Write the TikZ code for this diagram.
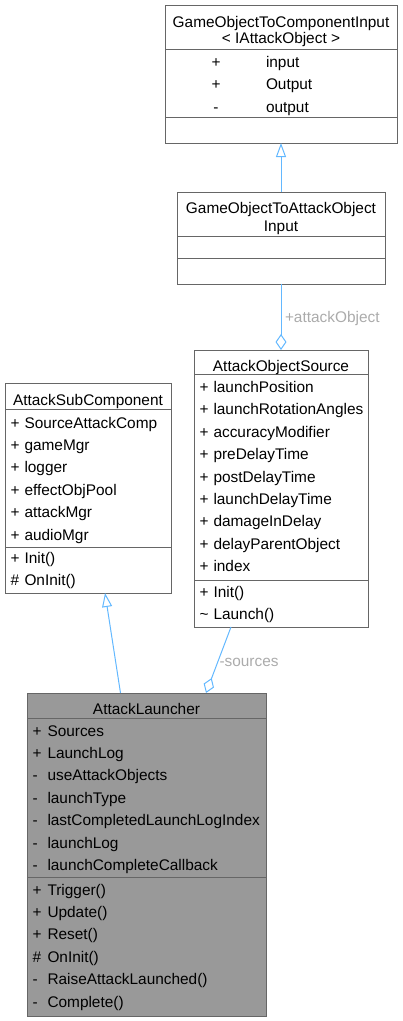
\documentclass[tikz,border=0pt]{standalone}
\usepackage{fontspec}
\setmainfont{Liberation Sans}
\usetikzlibrary{arrows.meta}
\definecolor{edgeblue}{HTML}{63B8FF}
\definecolor{boxgray}{HTML}{666666}
\definecolor{labelgray}{HTML}{ABABAB}
\definecolor{mainfill}{HTML}{999999}
\begin{document}
\begin{tikzpicture}[x=1pt,y=-1pt,
  font=\fontsize{15.4}{18}\selectfont,
  umlbox/.style={draw=boxgray, line width=1pt, fill=white, inner sep=0pt, outer sep=0pt, anchor=north west},
  divline/.style={draw=boxgray, line width=1pt},
  txt/.style={inner sep=0pt, outer sep=0pt, anchor=base west, text=black},
  ttl/.style={inner sep=0pt, outer sep=0pt, anchor=base, text=black},
  elabel/.style={inner sep=0pt, outer sep=0pt, anchor=base west, text=labelgray},
  inherit/.style={draw=edgeblue, line width=1pt, -{Triangle[open, length=14pt, width=10pt]}},
  aggr/.style={draw=edgeblue, line width=1pt, -{Diamond[open, length=16pt, width=11pt]}}]
\useasboundingbox (0,0) rectangle (403,1021);

% ---- GameObjectToComponentInput< IAttackObject >
\node[umlbox, minimum width=232pt, minimum height=138pt] (b1) at (165,5) {};
\draw[divline] (165,49) -- (397,49);
\draw[divline] (165,117) -- (397,117);
\node[ttl] (b1t1) at (281,27.5) {GameObjectToComponentInput};
\node[ttl] (b1t2) at (281,43) {< IAttackObject >};
\foreach \s/\n [count=\i from 0] in {+/input, +/Output, -/output} {
  \node[ttl] (b1s\i) at (216,{67.5+22.4*\i}) {\s};
  \node[txt] (b1n\i) at (266,{67.5+22.4*\i}) {\n};
}

% ---- GameObjectToAttackObjectInput
\node[umlbox, minimum width=208pt, minimum height=92pt] (b2) at (177,192) {};
\draw[divline] (177,236) -- (385,236);
\draw[divline] (177,258) -- (385,258);
\node[ttl] (b2t1) at (281,213.5) {GameObjectToAttackObject};
\node[ttl] (b2t2) at (281,231.5) {Input};

% ---- AttackObjectSource
\node[umlbox, minimum width=174pt, minimum height=277pt] (b3) at (194,350) {};
\draw[divline] (194,374) -- (368,374);
\draw[divline] (194,580) -- (368,580);
\node[ttl] (b3t) at (281,371.5) {AttackObjectSource};
\foreach \s/\n [count=\i from 0] in {+/launchPosition, +/launchRotationAngles, +/accuracyModifier, +/preDelayTime, +/postDelayTime, +/launchDelayTime, +/damageInDelay, +/delayParentObject, +/index} {
  \node[txt] (b3as\i) at (199.5,{392.5+22.4*\i}) {\s};
  \node[txt] (b3an\i) at (213.5,{392.5+22.4*\i}) {\n};
}
\foreach \s/\n [count=\i from 0] in {+/Init(), \textasciitilde/Launch()} {
  \node[txt] (b3ms\i) at (199.5,{597+22.4*\i}) {\s};
  \node[txt] (b3mn\i) at (213.5,{597+22.4*\i}) {\n};
}

% ---- AttackSubComponent
\node[umlbox, minimum width=166pt, minimum height=210pt] (b4) at (5,383) {};
\draw[divline] (5,409) -- (171,409);
\draw[divline] (5,547) -- (171,547);
\node[ttl] (b4t) at (88,405.5) {AttackSubComponent};
\foreach \s/\n [count=\i from 0] in {+/SourceAttackComp, +/gameMgr, +/logger, +/effectObjPool, +/attackMgr, +/audioMgr} {
  \node[txt] (b4as\i) at (10.5,{428+22.4*\i}) {\s};
  \node[txt] (b4an\i) at (24.5,{428+22.4*\i}) {\n};
}
\foreach \s/\n [count=\i from 0] in {+/Init(), \#/OnInit()} {
  \node[txt] (b4ms\i) at (10.5,{563.5+22.4*\i}) {\s};
  \node[txt] (b4mn\i) at (24.5,{563.5+22.4*\i}) {\n};
}

% ---- AttackLauncher
\node[umlbox, fill=mainfill, minimum width=239pt, minimum height=323pt] (bl) at (27,693) {};
\draw[divline] (27,718) -- (266,718);
\draw[divline] (27,877.5) -- (266,877.5);
\node[ttl] (blt) at (146.5,714) {AttackLauncher};
\foreach \s/\n [count=\i from 0] in {+/Sources, +/LaunchLog, -/useAttackObjects, -/launchType, -/lastCompletedLaunchLogIndex, -/launchLog, -/launchCompleteCallback} {
  \node[txt] (blas\i) at (32.5,{736+22.4*\i}) {\s};
  \node[txt] (blan\i) at (47.5,{736+22.4*\i}) {\n};
}
\foreach \s/\n [count=\i from 0] in {+/Trigger(), +/Update(), +/Reset(), \#/OnInit(), -/RaiseAttackLaunched(), -/Complete()} {
  \node[txt] (blms\i) at (32.5,{895+22.4*\i}) {\s};
  \node[txt] (blmn\i) at (47.5,{895+22.4*\i}) {\n};
}

% ---- connectors
\draw[inherit] (b2.north) -- (b1.south);
\draw[aggr] (b2.south) -- (b3.north);
\node[elabel] (lab1) at (285,322) {+attackObject};

\coordinate (blIn) at ([xshift=-26pt]bl.north);
\coordinate (b4Out) at ([xshift=17pt]b4.south);
\draw[inherit] (blIn) -- (b4Out);

\coordinate (b3Out) at ([xshift=-50pt]b3.south);
\coordinate (blAg) at ([xshift=59.5pt]bl.north);
\draw[aggr] (b3Out) -- (blAg);
\node[elabel] (lab2) at (219.5,666.5) {-sources};
\end{tikzpicture}
\end{document}
